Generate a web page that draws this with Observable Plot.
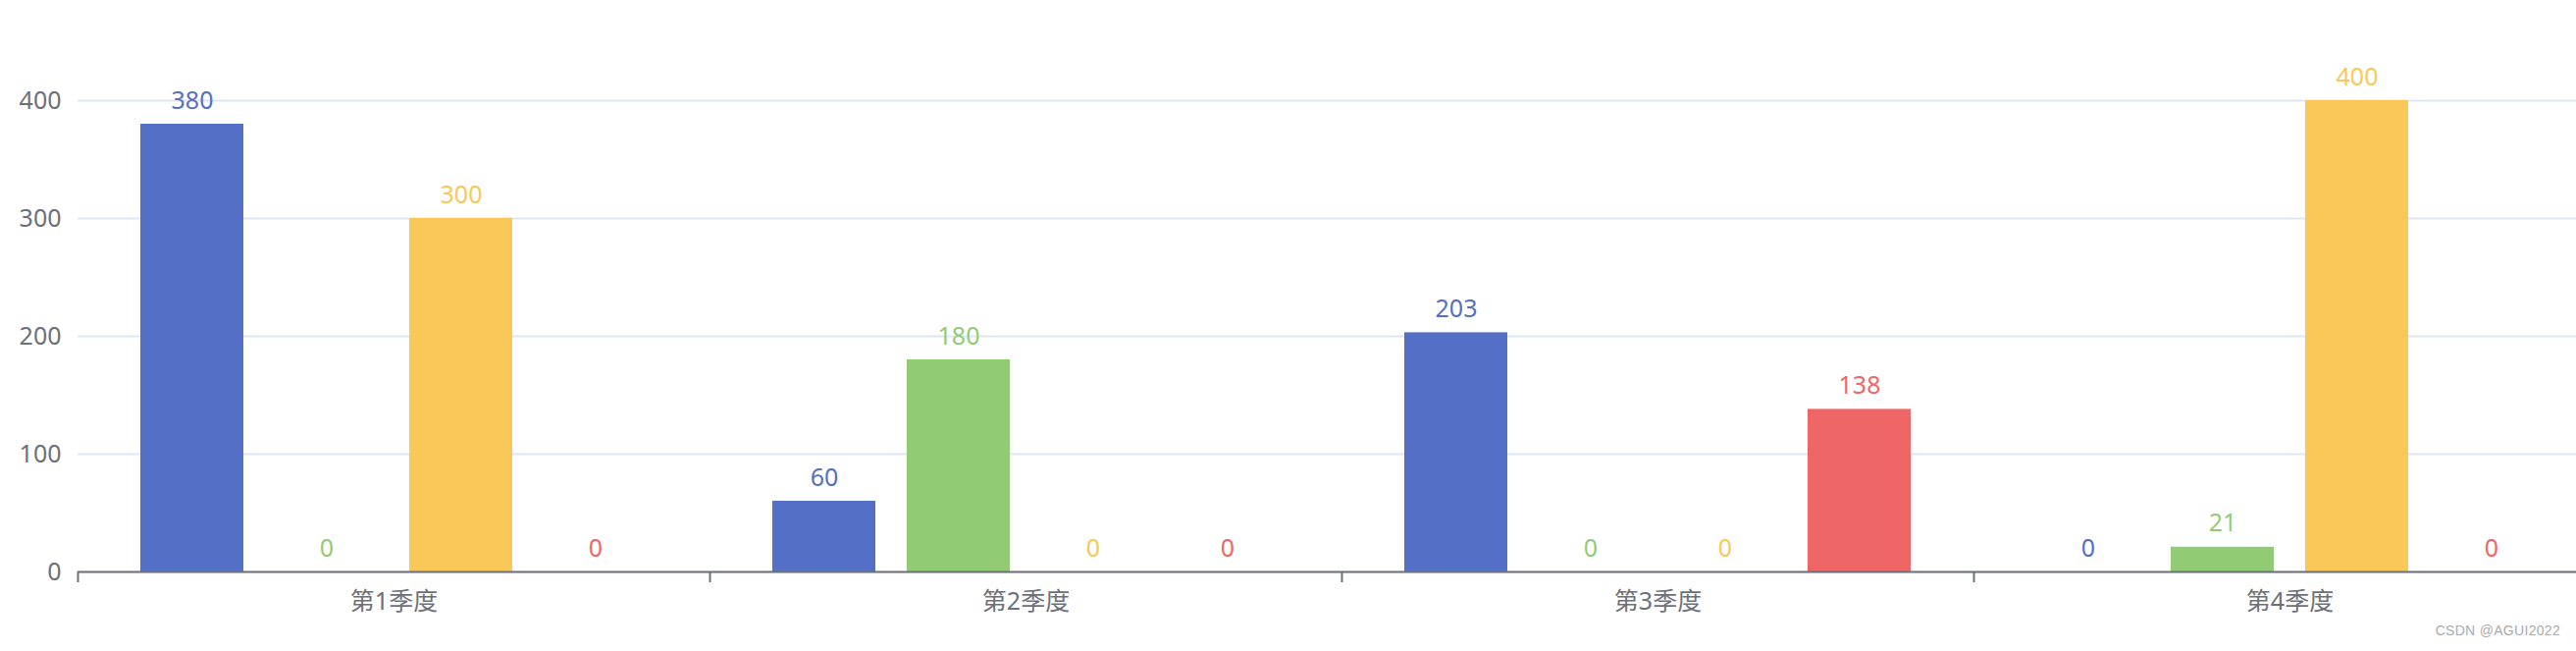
<!DOCTYPE html>
<html>
<head>
<meta charset="utf-8">
<script src="https://cdn.jsdelivr.net/npm/d3@7"></script>
<script src="https://cdn.jsdelivr.net/npm/@observablehq/plot@0.6"></script>
<style>
  html, body { margin: 0; padding: 0; background: #fff; overflow: hidden; }
  #wrap { position: relative; width: 2625px; height: 663px; overflow: hidden; }
  #mark { position: absolute; right: 16px; top: 634px; font: 14px "Liberation Sans", Arial, sans-serif; color: #aaa; letter-spacing: 0.3px; }
</style>
</head>
<body>
<div id="wrap"><div id="mark">CSDN @AGUI2022</div></div>
<script>
const quarters = ["第1季度", "第2季度", "第3季度", "第4季度"];
const seriesNames = ["系列1", "系列2", "系列3", "系列4"];
const seriesColors = ["#5470c6", "#91cc75", "#fac858", "#ee6666"];
const series1 = [380, 60, 203, 0];
const series2 = [0, 180, 0, 21];
const series3 = [300, 0, 0, 400];
const series4 = [0, 0, 138, 0];
const yTicks = [0, 100, 200, 300, 400];

const allSeries = [series1, series2, series3, series4];
const rows = [];
quarters.forEach((q, qi) => {
  seriesNames.forEach((s, si) => {
    rows.push({quarter: q, series: s, value: allSeries[si][qi]});
  });
});

const fullWidth = 2655;
const marginLeft = 79;
const halfBand = (fullWidth - marginLeft) / quarters.length / 2;
const font = '"Noto Sans", "Noto Sans CJK SC", sans-serif';

const chart = Plot.plot({
  width: fullWidth,
  height: 663,
  marginTop: 102,
  marginBottom: 81,
  marginLeft: marginLeft,
  marginRight: 0,
  style: {maxWidth: "none", fontFamily: font, background: "transparent"},
  fx: {domain: quarters, padding: 0, axis: null, label: null},
  x: {domain: seriesNames, paddingInner: 0.2308, paddingOuter: 0.46, axis: null, label: null},
  y: {domain: [0, 400], axis: null, label: null},
  color: {domain: seriesNames, range: seriesColors},
  marks: [
    Plot.gridY(yTicks, {stroke: "#E0E6F1", strokeOpacity: 1, strokeWidth: 2}),
    Plot.axisY(yTicks, {tickSize: 0, tickPadding: 17, fontSize: 25, fill: "#6E7079", textAnchor: "end", label: null}),
    Plot.barY(rows, {fx: "quarter", x: "series", y: "value", fill: "series"}),
    Plot.text(rows, {fx: "quarter", x: "series", y: "value", text: d => String(d.value), fill: "series", fontSize: 25, dy: -24, lineAnchor: "middle"}),
    Plot.ruleY([0], {stroke: "#6E7079", strokeWidth: 2}),
    Plot.axisFx({anchor: "bottom", tickSize: 0, tickPadding: 21, fontSize: 25, fill: "#6E7079", lineAnchor: "top", label: null}),
    Plot.axisFx({anchor: "bottom", tickSize: 11, tickFormat: () => "", stroke: "#6E7079", strokeWidth: 2, dx: -halfBand, label: null})
  ]
});
document.getElementById("wrap").prepend(chart);
</script>
</body>
</html>
